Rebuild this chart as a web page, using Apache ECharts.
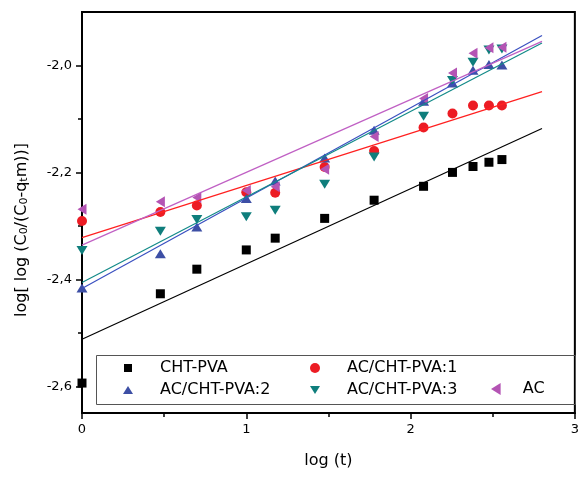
<!DOCTYPE html>
<html>
<head>
<meta charset="utf-8">
<script src="https://cdn.jsdelivr.net/npm/echarts@6/dist/echarts.min.js"></script>
<style>
html,body{margin:0;padding:0;background:#fff;}
#chart{width:582px;height:478px;}
</style>
</head>
<body>
<div id="chart"></div>
<script>
// log(t) values
var logT = [0, 0.477, 0.699, 1.0, 1.176, 1.477, 1.778, 2.079, 2.255, 2.380, 2.477, 2.556];
// measured series
var chtPva  = [-2.594, -2.427, -2.381, -2.345, -2.323, -2.286, -2.252, -2.226, -2.200, -2.189, -2.181, -2.176];
var acCht1  = [-2.291, -2.274, -2.262, -2.237, -2.238, -2.190, -2.160, -2.116, -2.090, -2.075, -2.075, -2.075];
var acCht2  = [-2.416, -2.352, -2.302, -2.249, -2.216, -2.173, -2.121, -2.067, -2.033, -2.009, -1.998, -1.999];
var acCht3  = [-2.346, -2.310, -2.288, -2.283, -2.271, -2.222, -2.171, -2.095, -2.028, -1.994, -1.971, -1.969];
var acOnly  = [-2.269, -2.255, -2.247, -2.234, -2.227, -2.194, -2.133, -2.062, -2.014, -1.977, -1.967, -1.966];
// fitted lines (endpoints)
var fitX      = [0, 2.8];
var fitCht    = [-2.512, -2.118];
var fitAc1    = [-2.322, -2.049];
var fitAc2    = [-2.417, -1.944];
var fitAc3    = [-2.406, -1.958];
var fitAc     = [-2.336, -1.955];
// ticks
var yMajor = [-2.6, -2.4, -2.2, -2.0];
var yMinor = [-2.5, -2.3, -2.1];
var names = ['CHT-PVA', 'AC/CHT-PVA:1', 'AC/CHT-PVA:2', 'AC/CHT-PVA:3', 'AC'];

function pairs(xs, ys){ return xs.map(function(x,i){ return [x, ys[i]]; }); }
var FONT = 'DejaVu Sans';
var C = {black:'#000000', red:'#ec1c24', blue:'#3d4fa5', teal:'#0f7e7c', mag:'#b454b4'};
var L = {black:'#000000', red:'#ff2020', blue:'#3a50c0', teal:'#128a88', mag:'#c060c4'};
var ICON_DOWN = 'path://M0,0 L10,0 L5,8 Z';
var ICON_LEFT = 'path://M8,0 L8,10 L0,5 Z';

function sc(name, ys, color, symbol, size, rot){
  return {name:name, type:'scatter', data:pairs(logT, ys), symbol:symbol, symbolSize:size,
    symbolRotate:rot||0, itemStyle:{color:color, opacity:1}, z:2, silent:true, animation:false};
}
function ln(name, ys, color){
  return {name:name, type:'line', data:pairs(fitX, ys), symbol:'none', z:3, silent:true,
    lineStyle:{color:color, width:1.2}, animation:false};
}
function lg(name, left, top, w, h, pad, icon){
  var item = {name:name};
  if (icon) { item.icon = icon; }
  return {data:[item], left:left, top:top, itemWidth:w, itemHeight:h, padding:0, orient:'horizontal',
    selectedMode:false, symbolKeepAspect:true, symbolRotate:0,
    textStyle:{fontFamily:FONT, fontSize:16, color:'#000', lineHeight:18, padding:[0,0,0,pad]}};
}

var chart = echarts.init(document.getElementById('chart'), null, {renderer:'canvas'});
chart.setOption({
  backgroundColor:'#fff',
  animation:false,
  grid:{left:82, top:12, right:2, bottom:65, show:true, borderColor:'#000', borderWidth:2, backgroundColor:'#fff'},
  xAxis:{type:'value', min:0, max:3, interval:1,
    axisLine:{show:true, onZero:false, lineStyle:{color:'#000', width:2}},
    axisTick:{show:true, inside:false, length:6, lineStyle:{color:'#000', width:1.5}},
    minorTick:{show:true, splitNumber:2, length:4, lineStyle:{color:'#000', width:1.5}},
    splitLine:{show:false},
    axisLabel:{margin:10, fontFamily:FONT, fontSize:13, color:'#000'},
    name:'log (t)', nameLocation:'middle', nameGap:40,
    nameTextStyle:{fontFamily:FONT, fontSize:16, color:'#000'}
  },
  yAxis:[{type:'value', min:-2.65, max:-1.9,
    axisLine:{show:true, onZero:false, lineStyle:{color:'#000', width:2}},
    axisTick:{show:true, inside:false, length:6, customValues:yMajor, lineStyle:{color:'#000', width:1.5}},
    splitLine:{show:false},
    axisLabel:{margin:10, fontFamily:FONT, fontSize:13, color:'#000', customValues:yMajor,
      formatter:function(v){ return v.toFixed(1).replace('.', ','); }}
  },{type:'value', min:-2.65, max:-1.9, position:'left',
    axisLine:{show:false},
    axisTick:{show:true, inside:false, length:4, customValues:yMinor, lineStyle:{color:'#000', width:1.5}},
    splitLine:{show:false},
    axisLabel:{show:false}
  }],
  legend:[
    lg(names[0], 124, 359, 8, 8, 23),
    lg(names[1], 310, 359, 10, 10, 22),
    lg(names[2], 123, 381, 10, 8, 22),
    lg(names[3], 310, 381, 10, 8, 22, ICON_DOWN),
    lg(names[4], 491, 380, 10, 12, 17, ICON_LEFT)
  ],
  graphic:[
    {type:'rect', left:94, top:353, shape:{width:479, height:49}, style:{fill:'none', stroke:'#555', lineWidth:1}, z:10},
    {type:'text', x:22, y:230, rotation:Math.PI/2,
      style:{text:'log[ log (C{s|0}/(C{s|0}-q{s|t}m))]', fill:'#000', font:'16px "DejaVu Sans"',
        align:'center', verticalAlign:'middle',
        rich:{s:{fontSize:11, fontFamily:FONT, verticalAlign:'bottom', lineHeight:12, fill:'#000'}}}}
  ],
  series:[
    sc(names[0], chtPva, C.black, 'rect', 9),
    sc(names[1], acCht1, C.red, 'circle', 10),
    sc(names[2], acCht2, C.blue, 'triangle', [11,9]),
    sc(names[3], acCht3, C.teal, 'triangle', [11,9], 180),
    sc(names[4], acOnly, C.mag, 'triangle', [11,9], 90),
    ln('fit CHT-PVA', fitCht, L.black),
    ln('fit AC/CHT-PVA:1', fitAc1, L.red),
    ln('fit AC/CHT-PVA:2', fitAc2, L.blue),
    ln('fit AC/CHT-PVA:3', fitAc3, L.teal),
    ln('fit AC', fitAc, L.mag)
  ]
});
</script>
</body>
</html>
